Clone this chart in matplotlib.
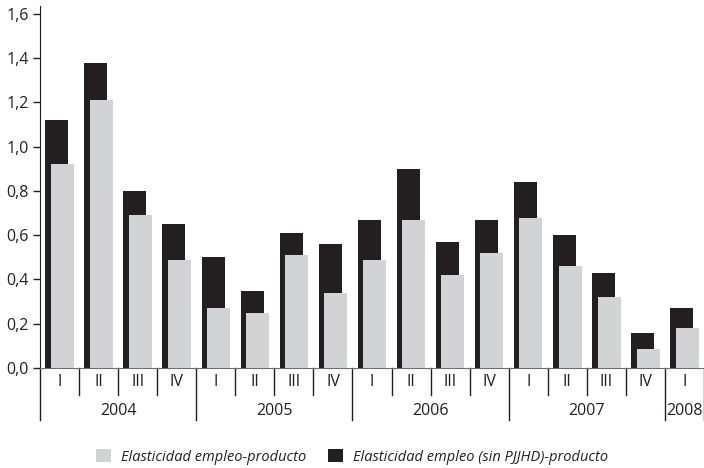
import numpy as np
import matplotlib.pyplot as plt

plt.rcParams['font.family'] = ['Open Sans', 'DejaVu Sans']

# Datos
trimestres = ['I', 'II', 'III', 'IV'] * 4 + ['I']
anios = ['2004', '2005', '2006', '2007', '2008']
trim_por_anio = [4, 4, 4, 4, 1]
elast_sin_pjjhd = [1.12, 1.38, 0.80, 0.65, 0.50, 0.35, 0.61, 0.56, 0.67,
                   0.90, 0.57, 0.67, 0.84, 0.60, 0.43, 0.16, 0.27]
elast_total = [0.92, 1.21, 0.69, 0.49, 0.27, 0.25, 0.51, 0.34, 0.49,
               0.67, 0.42, 0.52, 0.68, 0.46, 0.32, 0.085, 0.18]

negro = '#231f20'
gris = '#d1d3d4'
fs = 11.5

fig = plt.figure(figsize=(7.04, 4.68), dpi=100)
ax = fig.add_axes([40 / 704, 1 - 368 / 468, 664 / 704, 362 / 468])

x = np.arange(len(trimestres))
ancho = 0.59
ax.bar(x - 0.07, elast_sin_pjjhd, width=ancho, color=negro, zorder=2,
       label='Elasticidad empleo (sin PJJHD)-producto')
ax.bar(x + 0.07, elast_total, width=ancho, color=gris, zorder=3,
       label='Elasticidad empleo-producto')

ax.set_xlim(-0.5, len(trimestres) - 0.5)
ax.set_ylim(0, 1.636)
ax.set_yticks(np.arange(0, 1.61, 0.2))
ax.set_yticklabels([f'{v:.1f}'.replace('.', ',') for v in np.arange(0, 1.61, 0.2)])
ax.tick_params(axis='y', length=5, width=1, labelsize=fs, colors=negro, pad=3)
ax.set_xticks([])

for s in ['top', 'right']:
    ax.spines[s].set_visible(False)
ax.spines['left'].set_color(negro)
ax.spines['bottom'].set_color('#6d6e71')

# separadores de trimestres y años
tr = ax.get_xaxis_transform()
inicio_anio = np.cumsum([0] + trim_por_anio)
for i in range(len(trimestres) + 1):
    if i in inicio_anio:
        ax.plot([i - 0.5, i - 0.5], [0, -0.1436], transform=tr, color=negro,
                lw=1, clip_on=False)
    elif i < len(trimestres):
        ax.plot([i - 0.5, i - 0.5], [0, -0.0746], transform=tr, color=negro,
                lw=1, clip_on=False)
for i, t in enumerate(trimestres):
    ax.text(i, -0.04, t, transform=tr, ha='center', va='center',
            fontsize=fs, color=negro)
for a, ini, n in zip(anios, inicio_anio[:-1], trim_por_anio):
    ax.text(ini - 0.5 + n / 2, -0.118, a, transform=tr, ha='center',
            va='center', fontsize=fs, color=negro)

h, l = ax.get_legend_handles_labels()
leg = fig.legend(h[::-1], l[::-1], loc='center', bbox_to_anchor=(0.5, 1 - 457 / 468),
                 ncol=2, frameon=False, handlelength=1.0, handleheight=1.0,
                 handletextpad=0.7, columnspacing=1.5,
                 prop={'style': 'italic', 'size': 10.5})
for t in leg.get_texts():
    t.set_color(negro)

fig.savefig('out.png', dpi=100)
